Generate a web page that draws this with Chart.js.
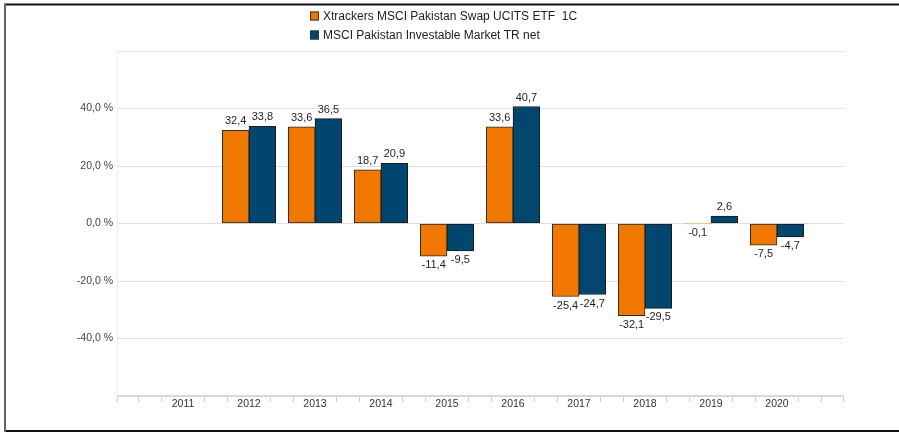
<!DOCTYPE html>
<html>
<head>
<meta charset="utf-8">
<script src="https://cdn.jsdelivr.net/npm/chart.js@4.4.0/dist/chart.umd.min.js"></script>
<style>
html, body { margin: 0; padding: 0; background: #fff; }
#wrap { position: relative; width: 899px; height: 433px; }
</style>
</head>
<body>
<div id="wrap"><canvas id="chart_pakistanYearly"></canvas></div>
<script>
// calendar-year returns in %
var years = [2011, 2012, 2013, 2014, 2015, 2016, 2017, 2018, 2019, 2020];
var etfReturns = [null, 32.4, 33.6, 18.7, -11.4, 33.6, -25.4, -32.1, -0.1, -7.5];
var indexReturns = [null, 33.8, 36.5, 20.9, -9.5, 40.7, -24.7, -29.5, 2.6, -4.7];
var seriesNames = ['Xtrackers MSCI Pakistan Swap UCITS ETF  1C', 'MSCI Pakistan Investable Market TR net'];
var seriesColors = ['#f07800', '#00466e'];
var yTicks = [-60, -40, -20, 0, 20, 40, 60];
var yTickLabels = [-40, -20, 0, 20, 40];
var xMin = 2010, xMax = 2021;

var FONT = '"Liberation Sans", Arial, sans-serif';

function commaNum(v) {
    return v.toFixed(1).replace('.', ',');
}
function isLabelledYear(v) {
    var r = Math.round(v);
    return Math.abs(v - r) < 1e-6 && years.indexOf(r) >= 0;
}

// minor tick marks every third of a year
var xTicks = [];
for (var yr = xMin; yr <= xMax; yr++) {
    xTicks.push(yr);
    if (yr < xMax) { xTicks.push(yr + 1 / 3); xTicks.push(yr + 2 / 3); }
}

var frameAndLegend = {
    id: 'frameAndLegend',
    beforeDraw: (chart) => {
        const ctx = chart.ctx;
        ctx.save();
        ctx.fillStyle = 'white';
        ctx.fillRect(0, 0, chart.width, chart.height);
        ctx.restore();
    },
    afterDraw: (chart) => {
        const ctx = chart.ctx;
        ctx.save();
        // outer frame
        ctx.lineWidth = 2;
        ctx.strokeStyle = '#111';
        ctx.beginPath();
        ctx.moveTo(4, 4.5); ctx.lineTo(chart.width, 4.5);
        ctx.moveTo(4, 431); ctx.lineTo(chart.width, 431);
        ctx.stroke();
        ctx.strokeStyle = '#666';
        ctx.beginPath();
        ctx.moveTo(5, 4); ctx.lineTo(5, 432);
        ctx.stroke();
        // legend, one item per row
        ctx.font = '12px ' + FONT;
        ctx.textBaseline = 'middle';
        ctx.textAlign = 'left';
        chart.data.datasets.forEach((ds, i) => {
            const cy = 16 + i * 19;
            ctx.fillStyle = ds.backgroundColor;
            ctx.fillRect(310, cy - 4.5, 9, 9);
            ctx.lineWidth = 1;
            ctx.strokeStyle = '#333';
            ctx.strokeRect(310.5, cy - 4, 8, 8);
            ctx.fillStyle = '#222';
            ctx.fillText(ds.label, 323, cy + 0.5);
        });
        ctx.restore();
    },
    afterDatasetsDraw: (chart) => {
        const ctx = chart.ctx;
        ctx.save();
        ctx.font = '11px ' + FONT;
        ctx.fillStyle = '#1e1e1e';
        ctx.textAlign = 'center';
        ctx.textBaseline = 'middle';
        chart.data.datasets.forEach((ds, i) => {
            const meta = chart.getDatasetMeta(i);
            meta.data.forEach((bar, j) => {
                const v = ds.data[j].y;
                if (v === null) return;
                const ty = v >= 0 ? bar.y - 9 : bar.y + 9;
                ctx.fillText(commaNum(v), bar.x, ty);
            });
        });
        ctx.restore();
    }
};

var chart_pakistanYearly = new Chart(document.getElementById('chart_pakistanYearly'), {
    type: 'bar',
    data: {
        datasets: [
            {
                label: seriesNames[0],
                data: years.map((y, i) => ({ x: y, y: etfReturns[i] })),
                backgroundColor: seriesColors[0],
                borderColor: '#2a2a2a',
                borderWidth: 1,
                borderSkipped: false
            },
            {
                label: seriesNames[1],
                data: years.map((y, i) => ({ x: y, y: indexReturns[i] })),
                backgroundColor: seriesColors[1],
                borderColor: '#1a1a1a',
                borderWidth: 1,
                borderSkipped: false
            }
        ]
    },
    options: {
        animation: false,
        responsive: true,
        maintainAspectRatio: false,
        barThickness: 26.7,
        layout: {
            padding: { top: 51, right: 56, bottom: 0, left: 0 }
        },
        plugins: {
            legend: { display: false },
            tooltip: { enabled: false }
        },
        scales: {
            x: {
                type: 'linear',
                min: xMin,
                max: xMax,
                offset: false,
                afterBuildTicks: (scale) => {
                    scale.ticks = xTicks.map(v => ({ value: v }));
                },
                afterFit: (scale) => { scale.height = 37; },
                ticks: {
                    autoSkip: false,
                    maxRotation: 0,
                    padding: -4,
                    color: '#333',
                    font: { family: FONT, size: 10.5 },
                    callback: function(value) {
                        return isLabelledYear(value) ? String(Math.round(value)) : '';
                    }
                },
                grid: {
                    offset: false,
                    drawOnChartArea: false,
                    drawTicks: true,
                    tickLength: 6,
                    tickWidth: 1,
                    tickColor: (c) => (c.tick && isLabelledYear(c.tick.value)) ? 'rgba(0,0,0,0)' : '#d2cec6'
                },
                border: { display: true, color: '#dcd8d0', width: 2 }
            },
            y: {
                type: 'linear',
                min: -60,
                max: 60,
                afterBuildTicks: (scale) => {
                    scale.ticks = yTicks.map(v => ({ value: v }));
                },
                afterFit: (scale) => { scale.width = 117; },
                ticks: {
                    padding: 4,
                    color: '#444',
                    font: { family: FONT, size: 10.5 },
                    callback: function(value) {
                        return yTickLabels.indexOf(value) >= 0 ? commaNum(value) + ' %' : '';
                    }
                },
                grid: {
                    color: '#e2dfda',
                    lineWidth: 1,
                    drawTicks: false
                },
                border: { display: true, color: '#f1efeb', width: 1 }
            }
        }
    },
    plugins: [frameAndLegend]
});
</script>
</body>
</html>
